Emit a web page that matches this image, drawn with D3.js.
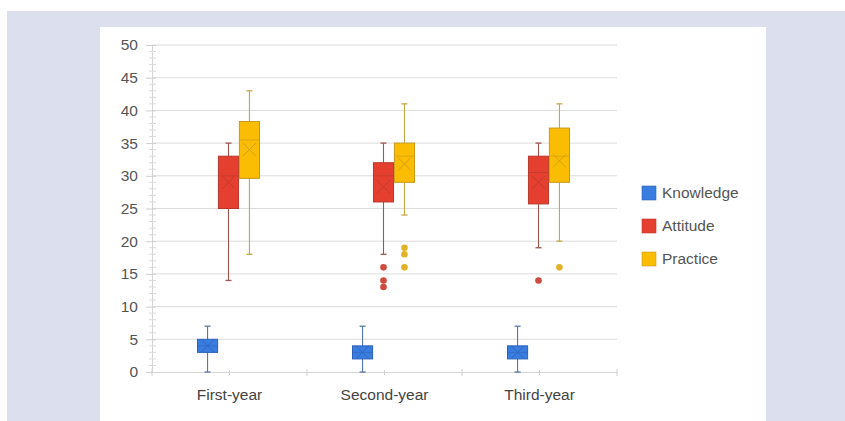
<!DOCTYPE html>
<html>
<head>
<meta charset="utf-8">
<script src="https://cdn.jsdelivr.net/npm/d3@7/dist/d3.min.js"></script>
<style>
  html, body { margin: 0; padding: 0; background: #ffffff; }
  svg { display: block; font-family: "Liberation Sans", Arial, sans-serif; }
</style>
</head>
<body>
<svg id="chart" width="845" height="421"></svg>
<script>
// ---- data ----
const categories = ["First-year", "Second-year", "Third-year"];
const seriesNames = ["Knowledge", "Attitude", "Practice"];
const yTicks = [0, 5, 10, 15, 20, 25, 30, 35, 40, 45, 50];

// per category: [min, q1, median, q3, max, mean]
const knowledgeStats = [[0, 3, 4, 5, 7, 4], [0, 2, 3, 4, 7, 3], [0, 2, 3, 4, 7, 3]];
const attitudeStats  = [[14, 25, 30, 33, 35, 29], [18, 26, 30, 32, 35, 28.3], [19, 25.7, 30.5, 33, 35, 29]];
const practiceStats  = [[18, 29.6, 35.5, 38.3, 43, 34], [24, 29, 33, 35, 41, 31.8], [20, 29, 33, 37.3, 41, 32.3]];

const knowledgeOutliers = [[], [], []];
const attitudeOutliers  = [[], [16, 14, 13], [14]];
const practiceOutliers  = [[], [19, 18, 16], [16]];

const seriesFill   = ["#3a7de0", "#e5402f", "#fbbc04"];
const seriesStroke = ["#2d62b8", "#b8382c", "#c99a1a"];
const seriesWhisk  = ["#5577aa", "#a0564e", "#c9a548"];
const seriesDot    = ["#2d62b8", "#c9362a", "#e0ab10"];

const allStats = [knowledgeStats, attitudeStats, practiceStats];
const allOutliers = [knowledgeOutliers, attitudeOutliers, practiceOutliers];

// ---- layout ----
const svg = d3.select("#chart");
svg.append("rect").attr("x", 0).attr("y", 0).attr("width", 845).attr("height", 421).attr("fill", "#ffffff");
svg.append("rect").attr("x", 7).attr("y", 11).attr("width", 838).attr("height", 410).attr("fill", "#dcdfed");
svg.append("rect").attr("x", 100).attr("y", 27).attr("width", 666).attr("height", 394).attr("fill", "#ffffff");

const plotL = 152, plotR = 617, plotT = 45, plotB = 372;
const x = d3.scaleBand().domain(categories).range([plotL, plotR]);
const xs = d3.scaleBand().domain(seriesNames).range([0, 62]).paddingInner(0.04);
const y = d3.scaleLinear().domain([0, 50]).range([plotB, plotT]);

// grid lines
svg.append("g").selectAll("line").data(yTicks.filter(d => d > 0)).join("line")
  .attr("x1", plotL).attr("x2", plotR)
  .attr("y1", d => y(d)).attr("y2", d => y(d))
  .attr("stroke", "#dcdcdc").attr("stroke-width", 1);

// y axis
const yAxis = d3.axisLeft(y).tickValues(yTicks).tickSize(6).tickPadding(8);
const gy = svg.append("g").attr("transform", `translate(${plotL},0)`).call(yAxis);
gy.select(".domain").attr("stroke", "#d4d4d4");
gy.selectAll(".tick line").attr("stroke", "#cfcfcf").attr("x2", 4).attr("x1", -6);
gy.selectAll(".tick text").attr("fill", "#555").attr("font-size", 15.5);
// minor ticks
const minor = d3.range(0, 51).filter(d => d % 5 !== 0);
svg.append("g").selectAll("line").data(minor).join("line")
  .attr("x1", plotL - 3).attr("x2", plotL + 4)
  .attr("y1", d => y(d)).attr("y2", d => y(d))
  .attr("stroke", "#dadada");

// x axis
const xAxis = d3.axisBottom(x).tickSize(0).tickPadding(17);
const gx = svg.append("g").attr("transform", `translate(0,${plotB})`).call(xAxis);
gx.select(".domain").attr("stroke", "#d4d4d4");
gx.selectAll(".tick text").attr("fill", "#444").attr("font-size", 15.5);
const bounds = [plotL].concat(categories.map(c => x(c) + x.bandwidth()));
svg.append("g").selectAll("line").data(bounds).join("line")
  .attr("x1", d => d).attr("x2", d => d)
  .attr("y1", plotB - 3).attr("y2", plotB + 4)
  .attr("stroke", "#cfcfcf");
svg.append("g").selectAll("line").data(categories).join("line")
  .attr("x1", d => x(d) + x.bandwidth() / 2).attr("x2", d => x(d) + x.bandwidth() / 2)
  .attr("y1", plotB - 2).attr("y2", plotB + 3)
  .attr("stroke", "#cfcfcf");

// boxes
const groupOffset = x.bandwidth() / 2 - 32;
seriesNames.forEach((s, si) => {
  const g = svg.append("g");
  categories.forEach((c, ci) => {
    const [mn, q1, md, q3, mx, mean] = allStats[si][ci];
    const bx = x(c) + groupOffset + xs(s);
    const bw = xs.bandwidth();
    const cx = bx + bw / 2;
    // whisker
    g.append("line").attr("x1", cx).attr("x2", cx).attr("y1", y(mx)).attr("y2", y(mn))
      .attr("stroke", seriesWhisk[si]).attr("stroke-width", 1.1);
    [mn, mx].forEach(v => g.append("line").attr("x1", cx - 3).attr("x2", cx + 3)
      .attr("y1", y(v)).attr("y2", y(v)).attr("stroke", seriesWhisk[si]).attr("stroke-width", 1.3));
    // box
    g.append("rect").attr("x", bx).attr("y", y(q3)).attr("width", bw).attr("height", y(q1) - y(q3))
      .attr("fill", seriesFill[si]).attr("stroke", seriesStroke[si]).attr("stroke-width", 1);
    // median
    g.append("line").attr("x1", bx).attr("x2", bx + bw).attr("y1", y(md)).attr("y2", y(md))
      .attr("stroke", seriesStroke[si]).attr("stroke-width", 0.8).attr("opacity", 0.7);
    // mean X
    const m = 6.5, my = y(mean);
    g.append("path").attr("d", `M${cx - m},${my - m}L${cx + m},${my + m}M${cx - m},${my + m}L${cx + m},${my - m}`)
      .attr("stroke", seriesStroke[si]).attr("stroke-width", 1).attr("fill", "none").attr("opacity", 0.8);
    // outliers
    allOutliers[si][ci].forEach(v => g.append("circle").attr("cx", cx).attr("cy", y(v)).attr("r", 3.3)
      .attr("fill", seriesDot[si]).attr("opacity", 0.9));
  });
});

// legend
const lg = svg.append("g");
seriesNames.forEach((s, i) => {
  const ly = 193 + i * 33;
  lg.append("rect").attr("x", 642).attr("y", ly - 7).attr("width", 14).attr("height", 14)
    .attr("fill", seriesFill[i]).attr("stroke", seriesStroke[i]).attr("stroke-width", 0.6);
  lg.append("text").attr("x", 662).attr("y", ly).attr("dy", "0.35em")
    .attr("fill", "#555").attr("font-size", 15.5).text(s);
});
</script>
</body>
</html>
